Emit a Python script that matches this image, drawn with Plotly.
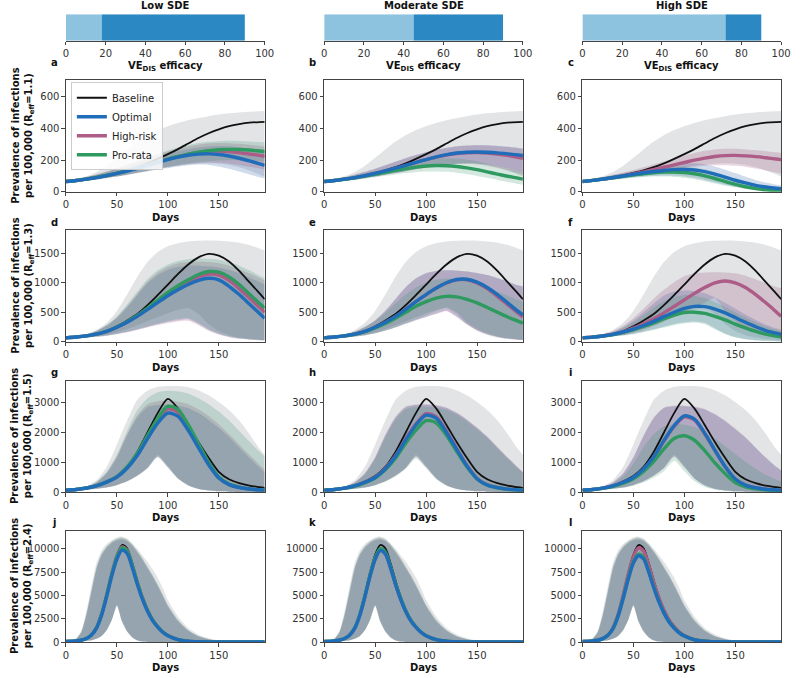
import plotly.graph_objects as go

# ---------------- data ----------------
DAYS = [0, 10, 20, 30, 40, 50, 60, 70, 80, 90, 100, 110, 120, 130, 140, 150, 160, 170, 180, 190, 195]
DAYS4 = [0, 5, 10, 15, 20, 25, 30, 35, 40, 45, 50, 55, 60, 65, 70, 75, 80, 85, 90, 95, 100,
         110, 120, 130, 140, 150, 160, 170, 180, 190, 195]

SDE_LEVELS = ["Low SDE", "Moderate SDE", "High SDE"]
VE_LIGHT = [18, 45, 72]
VE_TOTAL = [90, 90, 90]
VE_TICKS = [0, 20, 40, 60, 80, 100]
REFF = ["1.1", "1.3", "1.5", "2.4"]
STRATEGIES = ["Baseline", "Optimal", "High-risk", "Pro-rata"]
X_TICKS = [0, 50, 100, 150]
Y_TICKS = [[0, 200, 400, 600], [0, 500, 1000, 1500], [0, 1000, 2000, 3000], [0, 2500, 5000, 7500, 10000]]
Y_MAX = [705, 1890, 3740, 11950]

# Row 1 (R_eff = 1.1)
base11 = [65, 71, 80, 91, 104, 119, 136, 156, 180, 208, 238, 270, 305, 340, 370, 395, 415, 428, 437, 441, 442]
base11_lo = [58, 63, 70, 78, 87, 97, 108, 120, 132, 144, 155, 165, 173, 178, 180, 178, 170, 155, 135, 110, 95]
base11_hi = [72, 82, 98, 125, 165, 215, 268, 318, 358, 390, 415, 435, 452, 466, 478, 488, 496, 502, 506, 509, 510]

a_opt = [65, 71, 80, 90, 102, 116, 131, 148, 166, 185, 204, 219, 231, 238, 240, 236, 226, 212, 195, 177, 167]
a_opt_lo = [58, 62, 69, 77, 86, 96, 106, 117, 128, 139, 150, 160, 168, 172, 170, 160, 145, 128, 110, 92, 84]
a_opt_hi = [72, 81, 93, 107, 124, 142, 162, 182, 202, 222, 240, 256, 270, 280, 287, 290, 288, 282, 272, 262, 256]
a_hr = [65, 71, 80, 91, 103, 117, 133, 150, 168, 187, 206, 222, 237, 249, 256, 258, 255, 248, 239, 230, 225]
a_hr_lo = [58, 62, 70, 78, 88, 98, 110, 122, 134, 146, 158, 168, 176, 182, 185, 183, 177, 168, 158, 147, 140]
a_hr_hi = [72, 81, 94, 110, 128, 148, 170, 192, 214, 235, 255, 272, 287, 298, 305, 308, 307, 303, 297, 290, 286]
a_pr = [65, 71, 80, 91, 103, 117, 133, 150, 168, 187, 206, 223, 238, 251, 260, 266, 268, 267, 264, 258, 255]
a_pr_lo = [58, 62, 70, 78, 88, 98, 110, 122, 134, 146, 158, 170, 180, 188, 194, 198, 200, 200, 198, 195, 192]
a_pr_hi = [72, 81, 94, 110, 128, 149, 172, 195, 218, 240, 261, 280, 296, 308, 316, 320, 322, 321, 318, 314, 311]

b_opt = [65, 71, 80, 90, 102, 116, 132, 149, 167, 186, 204, 221, 235, 245, 250, 252, 250, 246, 240, 233, 229]
b_opt_lo = [58, 62, 69, 77, 86, 96, 107, 118, 130, 142, 153, 163, 172, 178, 180, 178, 172, 162, 148, 132, 124]
b_opt_hi = [72, 81, 93, 108, 126, 146, 168, 190, 212, 232, 250, 265, 278, 287, 292, 294, 293, 290, 285, 279, 275]
b_hr = [65, 71, 80, 90, 102, 116, 132, 149, 167, 186, 203, 219, 232, 242, 247, 248, 245, 239, 230, 218, 212]
b_hr_lo = [58, 62, 69, 77, 86, 96, 107, 118, 130, 142, 152, 162, 170, 175, 176, 172, 163, 150, 134, 116, 108]
b_hr_hi = [72, 81, 93, 108, 126, 146, 168, 190, 212, 232, 250, 266, 279, 288, 293, 295, 294, 290, 284, 276, 271]
b_pr = [65, 71, 79, 88, 99, 111, 123, 135, 146, 156, 163, 166, 165, 160, 151, 140, 126, 112, 98, 86, 80]
b_pr_lo = [58, 62, 68, 75, 83, 92, 101, 110, 118, 124, 128, 129, 126, 120, 111, 100, 88, 75, 62, 50, 44]
b_pr_hi = [72, 80, 91, 103, 117, 132, 148, 164, 178, 192, 203, 210, 212, 210, 203, 192, 178, 162, 146, 132, 125]

c_opt = [65, 72, 80, 90, 100, 110, 120, 128, 135, 140, 141, 138, 128, 112, 93, 73, 56, 41, 30, 22, 20]
c_opt_lo = [58, 63, 69, 77, 84, 91, 97, 101, 103, 102, 97, 88, 75, 60, 45, 32, 22, 14, 9, 6, 5]
c_opt_hi = [72, 81, 92, 104, 117, 130, 143, 155, 166, 175, 180, 180, 174, 160, 140, 118, 95, 75, 58, 45, 40]
c_hr = [65, 72, 80, 90, 101, 113, 126, 140, 155, 170, 185, 200, 213, 223, 229, 230, 227, 222, 215, 207, 203]
c_hr_lo = [58, 63, 70, 78, 87, 96, 106, 117, 128, 139, 149, 158, 165, 168, 168, 164, 157, 147, 135, 122, 115]
c_hr_hi = [72, 81, 93, 107, 122, 138, 155, 173, 191, 210, 228, 245, 259, 268, 272, 272, 268, 263, 257, 250, 246]
c_pr = [65, 72, 80, 89, 98, 106, 114, 120, 124, 125, 122, 114, 101, 84, 65, 47, 32, 20, 12, 7, 5]
c_pr_lo = [58, 63, 69, 76, 83, 89, 94, 97, 97, 94, 88, 79, 67, 53, 39, 27, 17, 10, 6, 3, 2]
c_pr_hi = [72, 81, 91, 103, 115, 127, 138, 148, 156, 160, 160, 154, 142, 124, 103, 82, 62, 45, 32, 22, 18]

# Row 2 (R_eff = 1.3)
base13 = [65, 80, 100, 130, 180, 260, 360, 470, 620, 790, 970, 1150, 1310, 1430, 1490, 1460, 1360, 1200, 1010, 820, 720]
base13_lo = [58, 66, 78, 95, 120, 160, 215, 280, 350, 420, 485, 540, 570, 470, 300, 180, 110, 70, 45, 30, 25]
base13_hi = [70, 90, 130, 200, 320, 520, 800, 1100, 1350, 1520, 1620, 1670, 1700, 1710, 1715, 1712, 1700, 1680, 1640, 1580, 1550]

d_opt = [65, 80, 100, 128, 175, 245, 330, 430, 545, 665, 780, 880, 970, 1040, 1075, 1050, 940, 800, 640, 480, 400]
d_opt_lo = [58, 64, 73, 85, 103, 130, 165, 205, 250, 295, 335, 365, 380, 300, 200, 130, 85, 55, 38, 28, 25]
d_opt_hi = [70, 88, 120, 180, 270, 400, 580, 790, 990, 1130, 1220, 1270, 1290, 1290, 1280, 1260, 1220, 1160, 1090, 1010, 970]
d_hr = [65, 80, 100, 128, 176, 248, 336, 440, 560, 690, 815, 925, 1020, 1100, 1145, 1130, 1040, 900, 740, 580, 500]
d_hr_lo = [57, 63, 72, 84, 101, 127, 160, 198, 240, 282, 318, 345, 355, 280, 185, 120, 78, 50, 35, 26, 22]
d_hr_hi = [70, 88, 121, 183, 278, 415, 600, 815, 1020, 1170, 1270, 1330, 1350, 1355, 1350, 1330, 1290, 1230, 1160, 1080, 1040]
d_pr = [65, 80, 100, 129, 178, 250, 340, 445, 570, 705, 835, 950, 1050, 1140, 1190, 1180, 1100, 970, 810, 650, 570]
d_pr_lo = [58, 64, 74, 87, 106, 135, 172, 215, 262, 310, 352, 385, 400, 320, 215, 140, 92, 60, 42, 30, 27]
d_pr_hi = [70, 88, 122, 185, 285, 430, 630, 850, 1060, 1210, 1310, 1370, 1400, 1410, 1405, 1390, 1350, 1290, 1210, 1120, 1080]

e_opt = [65, 80, 100, 128, 175, 245, 330, 430, 550, 680, 800, 910, 1000, 1055, 1060, 1010, 920, 800, 660, 520, 455]
e_opt_lo = [58, 64, 74, 88, 110, 145, 190, 245, 310, 370, 425, 480, 530, 430, 300, 200, 130, 85, 55, 38, 32]
e_opt_hi = [70, 88, 118, 170, 250, 360, 520, 720, 920, 1070, 1160, 1200, 1210, 1205, 1190, 1165, 1130, 1080, 1020, 960, 940]
e_hr = [65, 80, 100, 128, 175, 245, 330, 430, 550, 680, 800, 910, 995, 1050, 1050, 995, 900, 770, 630, 490, 420]
e_hr_lo = [57, 63, 73, 86, 108, 142, 186, 240, 303, 362, 416, 470, 518, 420, 292, 195, 126, 82, 53, 36, 30]
e_hr_hi = [70, 88, 118, 172, 254, 366, 528, 730, 930, 1078, 1166, 1205, 1213, 1208, 1192, 1166, 1130, 1078, 1016, 954, 932]
e_pr = [65, 80, 100, 127, 170, 235, 310, 400, 500, 600, 680, 740, 770, 760, 720, 660, 580, 500, 420, 350, 315]
e_pr_lo = [58, 65, 75, 90, 112, 145, 190, 245, 310, 380, 450, 520, 580, 500, 330, 220, 140, 90, 60, 40, 33]
e_pr_hi = [70, 87, 116, 168, 245, 350, 490, 650, 800, 920, 1000, 1050, 1070, 1060, 1030, 980, 920, 850, 780, 710, 680]

f_opt = [65, 78, 98, 125, 165, 215, 275, 345, 425, 500, 565, 600, 595, 555, 490, 410, 330, 255, 190, 145, 125]
f_opt_lo = [58, 64, 74, 88, 108, 135, 170, 210, 255, 300, 330, 345, 320, 230, 140, 80, 45, 25, 15, 10, 8]
f_opt_hi = [70, 86, 115, 165, 245, 360, 500, 650, 780, 850, 870, 860, 820, 750, 660, 560, 460, 370, 290, 230, 205]
f_hr = [65, 80, 100, 127, 170, 230, 305, 390, 490, 600, 710, 820, 920, 1000, 1030, 1000, 920, 800, 660, 510, 430]
f_hr_lo = [58, 65, 76, 92, 115, 150, 200, 265, 340, 420, 500, 580, 660, 740, 520, 350, 240, 170, 130, 110, 100]
f_hr_hi = [70, 88, 120, 180, 270, 400, 560, 730, 880, 1010, 1110, 1160, 1175, 1180, 1175, 1160, 1120, 1060, 990, 930, 910]
f_pr = [65, 78, 97, 122, 160, 207, 260, 320, 390, 450, 495, 500, 480, 430, 370, 300, 235, 175, 130, 95, 80]
f_pr_lo = [58, 64, 73, 86, 104, 128, 160, 198, 240, 280, 310, 320, 295, 210, 125, 70, 38, 20, 12, 8, 6]
f_pr_hi = [70, 85, 112, 158, 230, 330, 450, 580, 690, 760, 790, 780, 740, 670, 590, 500, 410, 330, 260, 205, 180]

# Row 3 (R_eff = 1.5)
base15 = [65, 90, 140, 220, 360, 544, 850, 1350, 2000, 2650, 3130, 2800, 2250, 1680, 1150, 680, 430, 300, 215, 165, 145]
base15_lo = [58, 70, 88, 115, 160, 240, 370, 560, 820, 1250, 880, 470, 240, 115, 58, 30, 15, 8, 5, 3, 2]
base15_hi = [70, 110, 200, 400, 850, 1600, 2400, 3100, 3400, 3530, 3560, 3560, 3520, 3420, 3250, 3020, 2750, 2400, 1950, 1450, 1250]

g_opt = [65, 88, 136, 212, 335, 500, 800, 1230, 1790, 2310, 2650, 2540, 2070, 1490, 920, 470, 250, 155, 102, 76, 68]
g_opt_lo = [58, 70, 88, 115, 160, 240, 370, 560, 820, 1200, 850, 460, 230, 110, 55, 28, 14, 7, 4, 2, 2]
g_opt_hi = [68, 100, 170, 320, 620, 1150, 1900, 2500, 2850, 2920, 2930, 2900, 2820, 2650, 2420, 2150, 1850, 1500, 1150, 820, 660]
g_hr = [65, 89, 138, 216, 342, 515, 830, 1280, 1860, 2410, 2790, 2680, 2180, 1570, 970, 490, 260, 160, 104, 77, 69]
g_hr_lo = [57, 69, 86, 112, 155, 232, 360, 545, 800, 1180, 830, 450, 225, 108, 54, 27, 14, 7, 4, 2, 2]
g_hr_hi = [68, 100, 175, 330, 650, 1200, 1950, 2580, 2950, 3050, 3060, 3030, 2950, 2780, 2550, 2270, 1950, 1600, 1250, 920, 760]
g_pr = [65, 89, 139, 218, 346, 522, 845, 1305, 1900, 2470, 2880, 2770, 2260, 1630, 1000, 505, 268, 165, 106, 78, 70]
g_pr_lo = [56, 68, 85, 110, 152, 228, 355, 540, 790, 1170, 820, 445, 222, 106, 53, 26, 13, 6, 3, 2, 1]
g_pr_hi = [68, 102, 180, 345, 680, 1260, 2050, 2750, 3150, 3350, 3400, 3380, 3300, 3150, 2950, 2700, 2400, 2050, 1700, 1350, 1200]

h_opt = [65, 88, 135, 210, 330, 490, 780, 1200, 1750, 2250, 2580, 2470, 2000, 1430, 880, 450, 240, 150, 100, 75, 67]
h_opt_lo = [58, 70, 88, 115, 160, 240, 370, 560, 820, 1200, 850, 460, 230, 110, 55, 28, 14, 7, 4, 2, 2]
h_opt_hi = [68, 100, 170, 320, 620, 1150, 1900, 2500, 2850, 2920, 2930, 2900, 2820, 2650, 2420, 2150, 1850, 1500, 1150, 820, 660]
h_hr = [65, 88, 136, 212, 335, 500, 795, 1225, 1785, 2290, 2630, 2520, 2040, 1460, 900, 460, 245, 152, 101, 76, 68]
h_hr_lo = [57, 69, 86, 112, 155, 232, 360, 545, 800, 1180, 830, 450, 225, 108, 54, 27, 14, 7, 4, 2, 2]
h_hr_hi = [68, 100, 175, 330, 640, 1180, 1930, 2530, 2870, 2940, 2950, 2920, 2840, 2670, 2440, 2170, 1870, 1520, 1170, 840, 680]
h_pr = [65, 87, 132, 205, 320, 475, 750, 1140, 1640, 2080, 2400, 2320, 1900, 1370, 850, 440, 235, 145, 95, 72, 64]
h_pr_lo = [56, 68, 84, 108, 148, 222, 345, 525, 775, 1130, 800, 430, 210, 100, 50, 25, 12, 6, 3, 2, 1]
h_pr_hi = [67, 98, 165, 310, 600, 1110, 1840, 2430, 2780, 2860, 2870, 2840, 2760, 2600, 2380, 2110, 1820, 1470, 1130, 800, 640]

i_opt = [65, 88, 135, 210, 330, 490, 775, 1190, 1735, 2230, 2560, 2450, 1980, 1410, 860, 440, 235, 145, 97, 73, 65]
i_opt_lo = [58, 70, 88, 115, 160, 240, 370, 560, 820, 1200, 850, 460, 230, 110, 55, 28, 14, 7, 4, 2, 2]
i_opt_hi = [68, 100, 170, 320, 620, 1150, 1880, 2480, 2820, 2880, 2880, 2850, 2770, 2600, 2380, 2110, 1820, 1480, 1140, 840, 720]
i_hr = [65, 88, 134, 208, 326, 484, 765, 1175, 1710, 2200, 2525, 2415, 1950, 1390, 850, 435, 232, 143, 96, 72, 64]
i_hr_lo = [57, 69, 86, 112, 155, 232, 360, 545, 800, 1180, 830, 450, 225, 108, 54, 27, 14, 7, 4, 2, 2]
i_hr_hi = [68, 100, 172, 325, 630, 1165, 1900, 2500, 2840, 2900, 2900, 2870, 2790, 2620, 2400, 2130, 1840, 1500, 1160, 860, 740]
i_pr = [65, 86, 128, 195, 300, 445, 690, 1030, 1450, 1800, 1890, 1740, 1390, 980, 620, 320, 175, 110, 75, 55, 45]
i_pr_lo = [55, 66, 82, 105, 142, 210, 320, 480, 700, 1050, 700, 360, 170, 80, 40, 20, 10, 5, 3, 2, 1]
i_pr_hi = [66, 95, 155, 280, 520, 950, 1500, 1950, 2200, 2280, 2260, 2180, 2020, 1800, 1550, 1280, 1020, 780, 580, 420, 360]

# Row 4 (R_eff = 2.4), sampled on DAYS4
base24 = [65, 82, 125, 210, 400, 790, 1580, 3050, 5150, 7450, 9350, 10400, 10050, 8500, 6600, 4900, 3500, 2450,
          1700, 1100, 720, 280, 100, 38, 14, 5, 2, 1, 0, 0, 0]
base24_lo = [55, 60, 70, 90, 130, 200, 350, 650, 1300, 2400, 4000, 2300, 1200, 550, 200, 60, 20, 5, 1, 0, 0,
             0, 0, 0, 0, 0, 0, 0, 0, 0, 0]
base24_hi = [70, 150, 400, 1200, 3300, 6000, 8500, 9800, 10500, 10900, 11200, 11300, 11100, 10600, 10000, 9300,
             8600, 7800, 6900, 5800, 4500, 2700, 1500, 800, 400, 180, 80, 30, 10, 3, 1]
r4_opt_lo = [56, 62, 72, 92, 132, 205, 355, 660, 1300, 2400, 3950, 2250, 1150, 520, 190, 55, 18, 5, 1, 0, 0,
             0, 0, 0, 0, 0, 0, 0, 0, 0, 0]
r4_opt_hi = [68, 130, 330, 1000, 2800, 5300, 7800, 9300, 10100, 10600, 10900, 11000, 10800, 10300, 9600, 8800,
             7900, 7000, 6000, 4900, 3800, 2200, 1200, 600, 300, 130, 55, 22, 8, 3, 1]
r4_hr_lo = [56, 61, 71, 91, 130, 202, 350, 650, 1280, 2380, 3900, 2200, 1120, 500, 180, 50, 16, 4, 1, 0, 0,
            0, 0, 0, 0, 0, 0, 0, 0, 0, 0]
r4_hr_hi = [68, 135, 340, 1050, 2900, 5400, 7900, 9400, 10200, 10700, 11000, 11100, 10900, 10400, 9700, 8900,
            8000, 7100, 6100, 5000, 3900, 2300, 1250, 620, 310, 135, 57, 23, 8, 3, 1]
r4_pr_lo = [55, 60, 70, 90, 128, 198, 345, 640, 1260, 2350, 3850, 2150, 1100, 490, 175, 48, 15, 4, 1, 0, 0,
            0, 0, 0, 0, 0, 0, 0, 0, 0, 0]
r4_pr_hi = [68, 140, 360, 1100, 3000, 5600, 8100, 9500, 10300, 10800, 11100, 11200, 11000, 10500, 9800, 9000,
            8100, 7200, 6200, 5100, 4000, 2400, 1300, 650, 320, 140, 60, 24, 9, 3, 1]

j_opt = [65, 80, 120, 200, 380, 750, 1500, 2900, 4900, 7100, 8900, 9850, 9500, 8000, 6200, 4600, 3300, 2300,
         1600, 1050, 680, 260, 95, 35, 13, 5, 2, 1, 0, 0, 0]
j_hr = [65, 81, 123, 206, 392, 775, 1550, 2995, 5060, 7330, 9200, 10200, 9830, 8280, 6420, 4760, 3420, 2380,
        1660, 1090, 705, 270, 98, 36, 13, 5, 2, 1, 0, 0, 0]
j_pr = [65, 81, 122, 205, 390, 770, 1540, 2980, 5030, 7280, 9130, 10100, 9750, 8230, 6380, 4730, 3400, 2370,
        1650, 1080, 700, 268, 97, 36, 13, 5, 2, 1, 0, 0, 0]
k_opt = [65, 80, 120, 200, 380, 745, 1490, 2880, 4870, 7060, 8860, 9800, 9450, 7960, 6170, 4580, 3280, 2290,
         1590, 1045, 676, 258, 94, 35, 13, 5, 2, 1, 0, 0, 0]
k_hr = [65, 80, 121, 201, 383, 750, 1500, 2900, 4900, 7100, 8900, 9850, 9500, 8000, 6200, 4600, 3300, 2300,
        1600, 1050, 680, 260, 95, 35, 13, 5, 2, 1, 0, 0, 0]
k_pr = [65, 81, 122, 204, 388, 762, 1525, 2945, 4975, 7200, 9040, 10000, 9650, 8130, 6300, 4680, 3360, 2340,
        1630, 1070, 690, 265, 96, 36, 13, 5, 2, 1, 0, 0, 0]
l_opt = [65, 79, 116, 193, 365, 720, 1430, 2760, 4660, 6750, 8470, 9250, 8920, 7520, 5830, 4330, 3100, 2160,
         1500, 990, 640, 245, 89, 33, 12, 5, 2, 1, 0, 0, 0]
l_hr = [65, 81, 122, 205, 390, 770, 1540, 2980, 5030, 7280, 9130, 10100, 9750, 8230, 6380, 4730, 3400, 2370,
        1650, 1080, 700, 268, 97, 36, 13, 5, 2, 1, 0, 0, 0]
l_pr = [65, 79, 117, 195, 370, 730, 1455, 2805, 4740, 6860, 8610, 9400, 9070, 7640, 5920, 4400, 3150, 2200,
        1530, 1005, 650, 250, 90, 34, 12, 5, 2, 1, 0, 0, 0]

# ---------------- styling ----------------
W, H = 800, 678
FONT = "DejaVu Sans"
COL_X = [(64, 266), (326.5, 528.5), (589, 791)]
ROW_Y = [(81, 193.5), (232.3, 344.8), (384, 496.5), (535.3, 647.8)]
BAR_Y = (14.5, 41)
LINE_COL = {"Baseline": "#111111", "Optimal": "#1f6db8", "High-risk": "#ac5c86", "Pro-rata": "#2e9a5f"}
FILL_COL = {"Baseline": "rgba(125,132,142,0.22)", "Optimal": "rgba(40,90,170,0.22)",
            "High-risk": "rgba(150,75,120,0.22)", "Pro-rata": "rgba(45,140,100,0.20)"}
LINE_W = {"Baseline": 1.8, "Optimal": 3.4, "High-risk": 3.4, "Pro-rata": 3.4}
BAR_LIGHT = "#8ec3e0"
BAR_DARK = "#2b88c2"
AX_COL = "#444444"


def px(x):
    return x / W


def py(y):
    return 1 - y / H


# table built from the named arrays
ROW_BASE = [(base11, base11_lo, base11_hi), (base13, base13_lo, base13_hi),
            (base15, base15_lo, base15_hi), (base24, base24_lo, base24_hi)]
PANELS = [
    [(a_opt, a_opt_lo, a_opt_hi), (a_hr, a_hr_lo, a_hr_hi), (a_pr, a_pr_lo, a_pr_hi)],
    [(b_opt, b_opt_lo, b_opt_hi), (b_hr, b_hr_lo, b_hr_hi), (b_pr, b_pr_lo, b_pr_hi)],
    [(c_opt, c_opt_lo, c_opt_hi), (c_hr, c_hr_lo, c_hr_hi), (c_pr, c_pr_lo, c_pr_hi)],
    [(d_opt, d_opt_lo, d_opt_hi), (d_hr, d_hr_lo, d_hr_hi), (d_pr, d_pr_lo, d_pr_hi)],
    [(e_opt, e_opt_lo, e_opt_hi), (e_hr, e_hr_lo, e_hr_hi), (e_pr, e_pr_lo, e_pr_hi)],
    [(f_opt, f_opt_lo, f_opt_hi), (f_hr, f_hr_lo, f_hr_hi), (f_pr, f_pr_lo, f_pr_hi)],
    [(g_opt, g_opt_lo, g_opt_hi), (g_hr, g_hr_lo, g_hr_hi), (g_pr, g_pr_lo, g_pr_hi)],
    [(h_opt, h_opt_lo, h_opt_hi), (h_hr, h_hr_lo, h_hr_hi), (h_pr, h_pr_lo, h_pr_hi)],
    [(i_opt, i_opt_lo, i_opt_hi), (i_hr, i_hr_lo, i_hr_hi), (i_pr, i_pr_lo, i_pr_hi)],
    [(j_opt, r4_opt_lo, r4_opt_hi), (j_hr, r4_hr_lo, r4_hr_hi), (j_pr, r4_pr_lo, r4_pr_hi)],
    [(k_opt, r4_opt_lo, r4_opt_hi), (k_hr, r4_hr_lo, r4_hr_hi), (k_pr, r4_pr_lo, r4_pr_hi)],
    [(l_opt, r4_opt_lo, r4_opt_hi), (l_hr, r4_hr_lo, r4_hr_hi), (l_pr, r4_pr_lo, r4_pr_hi)],
]

fig = go.Figure()
layout = {}
annotations = []
tickfont = dict(family=FONT, size=10, color="#333333")
boldfont = dict(family=FONT, size=10, color="#111111")


def axkey(kind, n):
    return kind + ("" if n == 1 else str(n))


for p in range(12):
    r, c = divmod(p, 3)
    n = p + 1
    xs, ys = f"x{n}", f"y{n}"
    days = DAYS4 if r == 3 else DAYS
    base = ROW_BASE[r]
    series = [base] + PANELS[p]
    # bands
    for name, (mean, lo, hi) in zip(STRATEGIES, series):
        fig.add_trace(go.Scatter(x=days, y=lo, xaxis=xs, yaxis=ys, mode="lines",
                                 line=dict(width=0, shape="spline", smoothing=0.6),
                                 hoverinfo="skip", showlegend=False))
        fig.add_trace(go.Scatter(x=days, y=hi, xaxis=xs, yaxis=ys, mode="lines", fill="tonexty",
                                 fillcolor=FILL_COL[name],
                                 line=dict(width=0, shape="spline", smoothing=0.6),
                                 hoverinfo="skip", showlegend=False))
    # mean lines (baseline, high-risk, pro-rata, optimal on top)
    order = [0, 2, 3, 1]
    for k in order:
        name = STRATEGIES[k]
        mean = series[k][0]
        fig.add_trace(go.Scatter(x=days, y=mean, xaxis=xs, yaxis=ys, mode="lines", name=name,
                                 line=dict(color=LINE_COL[name], width=LINE_W[name], shape="spline", smoothing=0.8),
                                 showlegend=(p == 0), legendrank=k + 1, hoverinfo="skip"))
    x0, x1 = COL_X[c]
    y0, y1 = ROW_Y[r]
    layout[axkey("xaxis", n)] = dict(domain=[px(x0), px(x1)], anchor=ys, range=[0, 195],
                                     tickvals=X_TICKS, ticks="outside", ticklen=3.5, tickwidth=1,
                                     tickcolor=AX_COL, showline=True, linecolor=AX_COL, linewidth=1,
                                     mirror=True, showgrid=False, zeroline=False, tickfont=tickfont)
    layout[axkey("yaxis", n)] = dict(domain=[py(y1), py(y0)], anchor=xs, range=[0, Y_MAX[r]],
                                     tickvals=Y_TICKS[r], ticktext=[str(v) for v in Y_TICKS[r]],
                                     ticks="outside", ticklen=3.5, tickwidth=1,
                                     tickcolor=AX_COL, showline=True, linecolor=AX_COL, linewidth=1,
                                     mirror=True, showgrid=False, zeroline=False, tickfont=tickfont)
    # Days label
    annotations.append(dict(text="<b>Days</b>", x=px((x0 + x1) / 2), y=py(y1 + 25.5), xref="paper", yref="paper",
                            showarrow=False, font=boldfont, xanchor="center", yanchor="middle"))
    # panel letter
    ly = 63 if r == 0 else y0 - 8
    annotations.append(dict(text="<b>" + "abcdefghijkl"[p] + "</b>", x=px(x0 - 12), y=py(ly), xref="paper",
                            yref="paper", showarrow=False, font=boldfont, xanchor="center", yanchor="middle"))
    if c == 0:
        annotations.append(dict(text="<b>Prevalence of infections<br>per 100,000 (R<sub>eff</sub>=" + REFF[r] + ")</b>",
                                x=px(20), y=py((y0 + y1) / 2), xref="paper", yref="paper", showarrow=False,
                                textangle=-90, font=boldfont, xanchor="center", yanchor="middle"))

# top efficacy bars
for c in range(3):
    n = 13 + c
    xs, ys = f"x{n}", f"y{n}"
    fig.add_trace(go.Bar(x=[VE_LIGHT[c]], y=[0], base=[0], orientation="h", width=1, xaxis=xs, yaxis=ys,
                         marker=dict(color=BAR_LIGHT, line=dict(width=0)), showlegend=False, hoverinfo="skip"))
    fig.add_trace(go.Bar(x=[VE_TOTAL[c] - VE_LIGHT[c]], y=[0], base=[VE_LIGHT[c]], orientation="h", width=1,
                         xaxis=xs, yaxis=ys, marker=dict(color=BAR_DARK, line=dict(width=0)),
                         showlegend=False, hoverinfo="skip"))
    x0, x1 = COL_X[c]
    layout[f"xaxis{n}"] = dict(domain=[px(x0), px(x1)], anchor=ys, range=[0, 100], tickvals=VE_TICKS,
                               ticks="outside", ticklen=3, tickcolor=AX_COL, showline=True, linecolor=AX_COL,
                               linewidth=1, mirror=False, showgrid=False, zeroline=False, tickfont=tickfont)
    layout[f"yaxis{n}"] = dict(domain=[py(BAR_Y[1]), py(BAR_Y[0])], anchor=xs, range=[-0.5, 0.5], visible=False)
    annotations.append(dict(text="<b>" + SDE_LEVELS[c] + "</b>", x=px((x0 + x1) / 2), y=py(6), xref="paper",
                            yref="paper", showarrow=False, font=boldfont, xanchor="center", yanchor="middle"))
    annotations.append(dict(text="<b>VE<sub>DIS</sub> efficacy</b>", x=px((x0 + x1) / 2), y=py(67), xref="paper",
                            yref="paper", showarrow=False, font=boldfont, xanchor="center", yanchor="middle"))

fig.update_layout(**layout)
fig.update_layout(
    width=W, height=H, margin=dict(l=0, r=0, t=0, b=0),
    paper_bgcolor="white", plot_bgcolor="white", barmode="overlay",
    font=dict(family=FONT, size=10, color="#333333"),
    annotations=annotations,
    legend=dict(x=px(69), y=py(83), xanchor="left", yanchor="top", bgcolor="rgba(255,255,255,0.85)",
                bordercolor="#cccccc", borderwidth=1, font=dict(family=FONT, size=10, color="#222222"),
                itemwidth=30, tracegroupgap=0, traceorder="normal"),
    showlegend=True,
)

fig.write_html("out.html", config={"displayModeBar": False},
               post_script="document.body.style.margin='0';document.body.style.overflow='hidden';")
